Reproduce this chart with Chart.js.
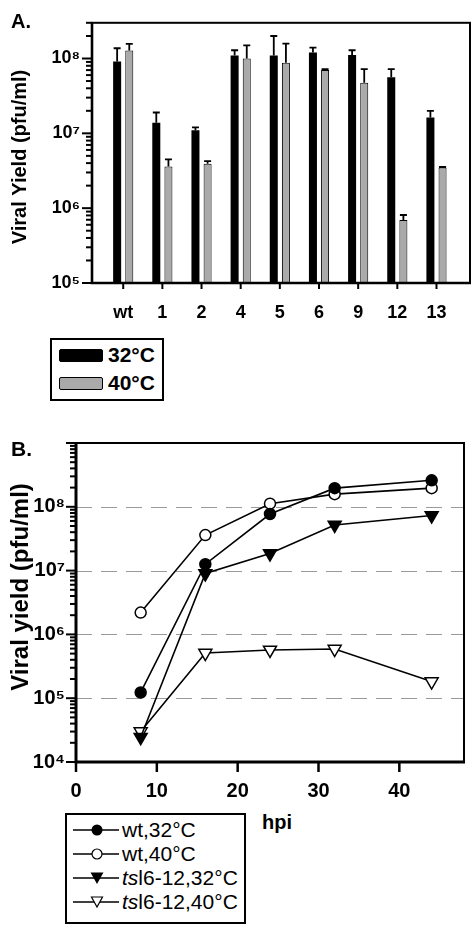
<!DOCTYPE html>
<html><head><meta charset="utf-8">
<script src="https://cdn.jsdelivr.net/npm/chart.js@4.4.1/dist/chart.umd.min.js"></script>
<style>
body{margin:0;background:#fff;}
#wrap{position:relative;width:475px;height:930px;overflow:hidden;font-family:"Liberation Sans",Arial,sans-serif;color:#000;background:#fff;}
canvas{position:absolute;left:0;}
#cA{top:0px}
#cB{top:420px}
.lab{position:absolute;font-weight:bold;line-height:20px;}
#legA{position:absolute;left:50px;top:338px;width:110px;height:59px;border:2px solid #000;background:#fff;}
#legB{position:absolute;left:65px;top:813px;width:177px;height:107px;border:2px solid #000;background:#fff;}
.rowA{position:absolute;left:0;height:20px;width:110px;}
.swA{position:absolute;left:7px;top:0;width:44px;height:13px;box-sizing:border-box;border:1px solid #000;border-radius:2px;}
.txA{position:absolute;left:56px;top:-5px;font-weight:bold;font-size:21px;line-height:22px;white-space:nowrap;}
.rowB{position:absolute;left:0;height:24px;width:177px;}
.rowB svg{position:absolute;left:6px;top:4px;}
.txB{position:absolute;left:55px;top:0;font-size:21px;line-height:24px;white-space:nowrap;}
</style></head>
<body><div id="wrap">
<canvas id="cA" width="475" height="330"></canvas>
<canvas id="cB" width="475" height="390"></canvas>
<div class="lab" style="left:11px;top:11px;font-size:20px">A.</div>
<div class="lab" style="left:11px;top:439px;font-size:21px">B.</div>
<div class="lab" style="left:262px;top:812px;font-size:20px">hpi</div>
<div id="legA"></div>
<div id="legB"></div>
</div>
<script>
// ---------- Panel A data ----------
const categories = ['wt', '1', '2', '4', '5', '6', '9', '12', '13'];
const barSeriesNames = ['32°C', '40°C'];
const yield32 = [9.1e7, 1.38e7, 1.1e7, 1.1e8, 1.1e8, 1.2e8, 1.11e8, 5.6e7, 1.63e7];
const yield32ErrTop = [1.37e8, 1.9e7, 1.2e7, 1.29e8, 2.0e8, 1.4e8, 1.29e8, 7.2e7, 2.0e7];
const yield40 = [1.28e8, 3.6e6, 3.93e6, 1.0e8, 8.8e7, 7.0e7, 4.74e7, 6.95e5, 3.5e6];
const yield40ErrTop = [1.57e8, 4.5e6, 4.25e6, 1.5e8, 1.58e8, 7.2e7, 7.2e7, 8.1e5, 3.55e6];
const yTicksA = [1e5, 1e6, 1e7, 1e8];

// ---------- Panel B data ----------
const hpi = [8, 16, 24, 32, 44];
const lineSeriesNames = ['wt,32°C', 'wt,40°C', 'tsl6-12,32°C', 'tsl6-12,40°C'];
const wt32 = [1.23e5, 1.26e7, 7.7e7, 1.96e8, 2.6e8];
const wt40 = [2.2e6, 3.6e7, 1.12e8, 1.58e8, 1.96e8];
const ts32 = [2.45e4, 9.0e6, 1.85e7, 5.2e7, 7.3e7];
const ts40 = [3.0e4, 5.1e5, 5.7e5, 5.9e5, 1.82e5];
const xTicksB = [0, 10, 20, 30, 40];
const yTicksB = [1e4, 1e5, 1e6, 1e7, 1e8];
const gridLinesB = [1e5, 1e6, 1e7, 1e8];

const FAMILY = '"Liberation Sans", Arial, sans-serif';
const SUP = {'0':'⁰','1':'¹','2':'²','3':'³','4':'⁴','5':'⁵','6':'⁶','7':'⁷','8':'⁸','9':'⁹','-':'⁻'};
function pow10Label(v) {
  const e = Math.round(Math.log10(v));
  return '10' + String(e).split('').map(c => SUP[c]).join('');
}
function logTickValues(min, max) {
  const out = [];
  for (let e = Math.floor(Math.log10(min)); e <= Math.ceil(Math.log10(max)); e++) {
    for (let k = 1; k <= 9; k++) {
      const v = k * Math.pow(10, e);
      if (v >= min * 0.999 && v <= max * 1.001) out.push({v, major: k === 1});
    }
  }
  return out;
}
function drawRotTitle(ctx, text, x, y, size) {
  ctx.save();
  ctx.translate(x, y);
  ctx.rotate(-Math.PI / 2);
  ctx.font = 'bold ' + size + 'px ' + FAMILY;
  ctx.fillStyle = '#000';
  ctx.textAlign = 'center';
  ctx.textBaseline = 'middle';
  ctx.fillText(text, 0, 0);
  ctx.restore();
}

// ---------- Panel A ----------
const errTops = [yield32ErrTop, yield40ErrTop];
const pluginA = {
  id: 'pluginA',
  afterDatasetsDraw(chart) {
    const {ctx, chartArea: a, scales: {x, y}} = chart;
    ctx.save();
    ctx.strokeStyle = '#000';
    // error bars
    errTops.forEach((err, di) => {
      const meta = chart.getDatasetMeta(di);
      meta.data.forEach((bar, i) => {
        const yt = y.getPixelForValue(err[i]);
        ctx.lineWidth = 1.8;
        ctx.beginPath();
        ctx.moveTo(bar.x, bar.y);
        ctx.lineTo(bar.x, yt);
        ctx.moveTo(bar.x - 3.5, yt);
        ctx.lineTo(bar.x + 3.5, yt);
        ctx.stroke();
      });
    });
    // frame
    ctx.lineWidth = 2;
    ctx.strokeRect(a.left, a.top, a.right - a.left, a.bottom - a.top);
    ctx.lineWidth = 2.6;
    ctx.beginPath();
    ctx.moveTo(a.left, a.top); ctx.lineTo(a.left, a.bottom); ctx.lineTo(a.right + 1, a.bottom);
    ctx.stroke();
    // y ticks
    ctx.lineWidth = 2;
    logTickValues(y.min, y.max).forEach(t => {
      const py = y.getPixelForValue(t.v);
      const len = t.major ? 10 : 6;
      ctx.beginPath(); ctx.moveTo(a.left - len, py); ctx.lineTo(a.left, py); ctx.stroke();
    });
    // x ticks
    categories.forEach((c, i) => {
      const px = x.getPixelForValue(i);
      ctx.beginPath(); ctx.moveTo(px, a.bottom); ctx.lineTo(px, a.bottom + 6); ctx.stroke();
    });
    ctx.restore();
    drawRotTitle(ctx, 'Viral Yield (pfu/ml)', 20.5, 157, 20);
  }
};

new Chart(document.getElementById('cA'), {
  type: 'bar',
  data: {
    datasets: [
      {label: barSeriesNames[0], data: yield32.map((v, i) => ({x: i, y: v})),
       backgroundColor: '#000', borderColor: '#000', borderWidth: 0,
       categoryPercentage: 0.62, barPercentage: 0.66},
      {label: barSeriesNames[1], data: yield40.map((v, i) => ({x: i, y: v})),
       backgroundColor: '#aaaaaa', borderColor: '#000', borderWidth: 1,
       categoryPercentage: 0.62, barPercentage: 0.66}
    ]
  },
  options: {
    responsive: false, animation: false, devicePixelRatio: 1,
    layout: {padding: {top: 12, right: 5, left: 0, bottom: 0}},
    plugins: {legend: {display: false}, tooltip: {enabled: false}},
    scales: {
      x: {
        type: 'linear', min: -0.797, max: 8.856, offset: false,
        grid: {display: false, drawTicks: false}, border: {display: false},
        afterBuildTicks: s => { s.ticks = categories.map((c, i) => ({value: i})); },
        afterFit: s => { s.height = 47; },
        ticks: {autoSkip: false, maxRotation: 0, padding: 19, color: '#000',
                font: {family: FAMILY, size: 18, weight: 'bold'},
                callback: (v, i) => categories[i]}
      },
      y: {
        type: 'logarithmic', min: 1e5, max: 3e8,
        grid: {display: false, drawTicks: false}, border: {display: false},
        afterBuildTicks: s => { s.ticks = yTicksA.map(v => ({value: v})); },
        afterFit: s => { s.width = 92; },
        ticks: {autoSkip: false, padding: 12, color: '#000',
                font: {family: FAMILY, size: 18, weight: 'bold'},
                callback: v => pow10Label(v)}
      }
    }
  },
  plugins: [pluginA]
});

// legend A
const legA = document.getElementById('legA');
const barColors = ['#000', '#aaaaaa'];
barSeriesNames.forEach((n, i) => {
  const r = document.createElement('div');
  r.className = 'rowA';
  r.style.top = (9 + i * 28) + 'px';
  r.innerHTML = '<div class="swA" style="background:' + barColors[i] + '"></div><div class="txA">' + n + '</div>';
  legA.appendChild(r);
});

// ---------- Panel B ----------
const pluginB = {
  id: 'pluginB',
  beforeDatasetsDraw(chart) {
    const {ctx, chartArea: a, scales: {y}} = chart;
    ctx.save();
    ctx.strokeStyle = '#9a9a9a';
    ctx.lineWidth = 1;
    ctx.setLineDash([16, 9]);
    gridLinesB.forEach(v => {
      const py = Math.round(y.getPixelForValue(v)) + 0.5;
      ctx.beginPath(); ctx.moveTo(a.left, py); ctx.lineTo(a.right, py); ctx.stroke();
    });
    ctx.restore();
  },
  afterDatasetsDraw(chart) {
    const {ctx, chartArea: a, scales: {x, y}} = chart;
    ctx.save();
    ctx.strokeStyle = '#000';
    ctx.lineWidth = 2;
    ctx.strokeRect(a.left, a.top, a.right - a.left, a.bottom - a.top);
    ctx.lineWidth = 3;
    ctx.beginPath();
    ctx.moveTo(a.left, a.top); ctx.lineTo(a.left, a.bottom); ctx.lineTo(a.right + 1, a.bottom);
    ctx.stroke();
    ctx.lineWidth = 2;
    logTickValues(y.min, y.max).forEach(t => {
      const py = y.getPixelForValue(t.v);
      const len = t.major ? 10 : 6;
      ctx.beginPath(); ctx.moveTo(a.left - len, py); ctx.lineTo(a.left, py); ctx.stroke();
    });
    ctx.lineWidth = 2.5;
    xTicksB.forEach(v => {
      const px = x.getPixelForValue(v);
      ctx.beginPath(); ctx.moveTo(px, a.bottom); ctx.lineTo(px, a.bottom + 10); ctx.stroke();
    });
    ctx.restore();
    drawRotTitle(ctx, 'Viral yield (pfu/ml)', 21, 587 - 420, 24);
  }
};

const lineStyles = [
  {pointStyle: 'circle', pointRadius: 5.5, pointRotation: 0, fill: '#000'},
  {pointStyle: 'circle', pointRadius: 5.5, pointRotation: 0, fill: '#fff'},
  {pointStyle: 'triangle', pointRadius: 7.5, pointRotation: 180, fill: '#000'},
  {pointStyle: 'triangle', pointRadius: 7.5, pointRotation: 180, fill: '#fff'}
];
const lineSeries = [wt32, wt40, ts32, ts40];

new Chart(document.getElementById('cB'), {
  type: 'line',
  data: {
    datasets: lineSeries.map((arr, k) => ({
      label: lineSeriesNames[k],
      data: hpi.map((h, i) => ({x: h, y: arr[i]})),
      borderColor: '#000', borderWidth: 1.6, tension: 0, fill: false,
      pointStyle: lineStyles[k].pointStyle, pointRadius: lineStyles[k].pointRadius,
      pointRotation: lineStyles[k].pointRotation,
      pointBackgroundColor: lineStyles[k].fill, pointBorderColor: '#000', pointBorderWidth: 1.5
    }))
  },
  options: {
    responsive: false, animation: false, devicePixelRatio: 1,
    layout: {padding: {top: 20, right: 11, left: 0, bottom: 0}},
    plugins: {legend: {display: false}, tooltip: {enabled: false}},
    scales: {
      x: {
        type: 'linear', min: 0, max: 48,
        grid: {display: false, drawTicks: false}, border: {display: false},
        afterBuildTicks: s => { s.ticks = xTicksB.map(v => ({value: v})); },
        afterFit: s => { s.height = 48; },
        ticks: {autoSkip: false, maxRotation: 0, padding: 17, color: '#000',
                font: {family: FAMILY, size: 20, weight: 'bold'}}
      },
      y: {
        type: 'logarithmic', min: 1e4, max: 1e9,
        grid: {display: false, drawTicks: false}, border: {display: false},
        afterBuildTicks: s => { s.ticks = yTicksB.map(v => ({value: v})); },
        afterFit: s => { s.width = 76; },
        ticks: {autoSkip: false, padding: 11, color: '#000',
                font: {family: FAMILY, size: 20, weight: 'bold'},
                callback: v => pow10Label(v)}
      }
    }
  },
  plugins: [pluginB]
});

// legend B
const legB = document.getElementById('legB');
const markerSvg = [
  '<circle cx="24" cy="8" r="5.5" fill="#000"/>',
  '<circle cx="24" cy="8" r="5" fill="#fff" stroke="#000" stroke-width="1.2"/>',
  '<polygon points="17.5,2.5 30.5,2.5 24,14" fill="#000"/>',
  '<polygon points="18.5,3 29.5,3 24,13" fill="#fff" stroke="#000" stroke-width="1.2"/>'
];
lineSeriesNames.forEach((n, i) => {
  const r = document.createElement('div');
  r.className = 'rowB';
  r.style.top = (3 + i * 24) + 'px';
  const label = n.startsWith('ts') ? '<i>ts</i>' + n.slice(2) : n;
  r.innerHTML = '<svg width="46" height="16" viewBox="0 0 46 16"><line x1="0" y1="8" x2="46" y2="8" stroke="#000" stroke-width="1.6"/>' +
    markerSvg[i] + '</svg><div class="txB">' + label + '</div>';
  legB.appendChild(r);
});
</script>
</body></html>
